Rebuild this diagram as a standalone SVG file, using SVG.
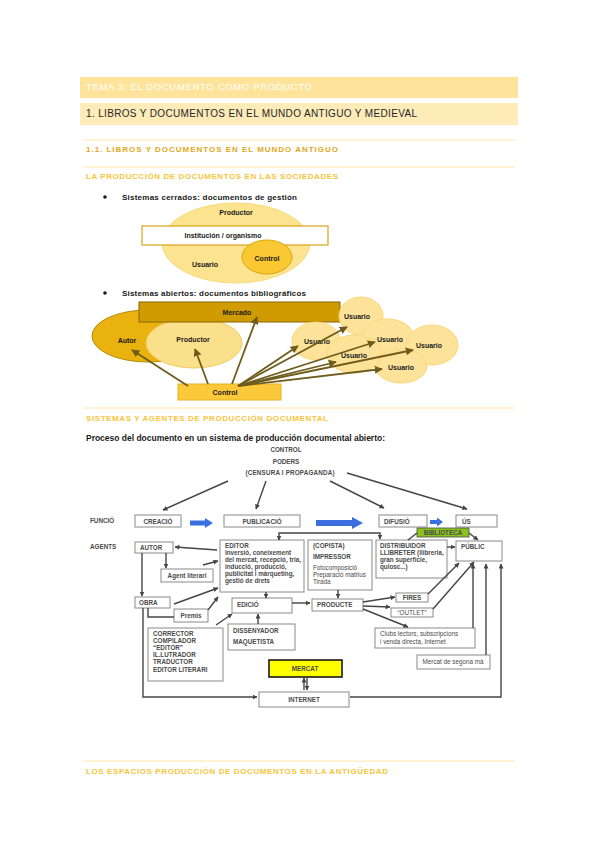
<svg xmlns="http://www.w3.org/2000/svg" width="599" height="848" viewBox="0 0 599 848">
<style>
.hd{font-family:"Liberation Sans",Arial,sans-serif}
.gold1{fill:#dfa81c;font-weight:bold;font-size:8px}
.gold2{fill:#f7c53c;font-weight:bold;font-size:8px}
.rule{stroke:#fde6a6;stroke-width:1}
.blk{font-family:"Liberation Sans",Arial,sans-serif;font-weight:bold;fill:#1a1a1a}
.lab{font-family:"Liberation Sans",Arial,sans-serif;font-weight:bold;font-size:7px;fill:#1a1a1a;text-anchor:middle}
.bx{fill:#fff;stroke:#8a8a8a;stroke-width:1}
.t{font-family:"Liberation Sans",Arial,sans-serif;font-weight:bold;font-size:6.3px;fill:#4a4a4a}
.tc{text-anchor:middle}
.tn{font-weight:normal}
.cl{fill:none;stroke:#454545;stroke-width:1.4}
.ol{fill:none;stroke:#6f5c1c;stroke-width:1.8}
.blue{fill:#3b6fe0}
</style>
<defs>
<marker id="ag" viewBox="0 0 10 10" refX="9" refY="5" markerWidth="5" markerHeight="5" markerUnits="userSpaceOnUse" orient="auto-start-reverse"><path d="M0,0L10,5L0,10z" fill="#454545"/></marker>
<marker id="ao" viewBox="0 0 10 10" refX="9" refY="5" markerWidth="8" markerHeight="8" markerUnits="userSpaceOnUse" orient="auto"><path d="M0,0L10,5L0,10z" fill="#6f5c1c"/></marker>
</defs>
<rect width="599" height="848" fill="#fff"/>

<!-- Header -->
<g id="header">
<rect x="80" y="77" width="438" height="21" fill="#fee49a"/>
<text class="hd" x="86" y="90" font-size="9.5" fill="#fff" textLength="226" lengthAdjust="spacing">TEMA 3: EL DOCUMENTO COMO PRODUCTO</text>
<rect x="80" y="103" width="438" height="22" fill="#fdebb8"/>
<text class="hd" x="86" y="117" font-size="10" fill="#262626" textLength="331" lengthAdjust="spacing">1. LIBROS Y DOCUMENTOS EN EL MUNDO ANTIGUO Y MEDIEVAL</text>
<line class="rule" x1="84" y1="140" x2="515" y2="140"/>
<text class="hd gold1" x="86" y="152" textLength="252" lengthAdjust="spacing">1.1. LIBROS Y DOCUMENTOS EN EL MUNDO ANTIGUO</text>
<line class="rule" x1="84" y1="167" x2="515" y2="167"/>
<text class="hd gold2" x="86" y="179" textLength="252" lengthAdjust="spacing">LA PRODUCCIÓN DE DOCUMENTOS EN LAS SOCIEDADES</text>
</g>

<!-- Closed systems -->
<g id="closed-title">
<circle cx="105" cy="197" r="1.8" fill="#1a1a1a"/>
<text class="blk" x="122" y="200" font-size="8" textLength="175" lengthAdjust="spacing">Sistemas cerrados: documentos de gestión</text>
</g>
<g id="closed-productor">
<ellipse cx="236" cy="243" rx="74" ry="40" fill="#fce38f" stroke="#fbd97a"/>
<text class="lab" x="236" y="215">Productor</text>
<text class="lab" x="205" y="267">Usuario</text>
</g>
<g id="closed-institucion">
<rect x="142" y="226" width="186" height="19" fill="#fff" stroke="#d9a41a" stroke-width="1.2"/>
<text class="lab" x="223" y="238">Institución / organismo</text>
</g>
<g id="closed-control">
<ellipse cx="267" cy="257" rx="25" ry="17" fill="#fac832" stroke="#d9a70c"/>
<text class="lab" x="267" y="261">Control</text>
</g>

<!-- Open systems -->
<g id="open-title">
<circle cx="105" cy="293" r="1.8" fill="#1a1a1a"/>
<text class="blk" x="122" y="296" font-size="8" textLength="184" lengthAdjust="spacing">Sistemas abiertos: documentos bibliográficos</text>
</g>
<g id="open-autor">
<ellipse cx="148" cy="336" rx="56" ry="26" fill="#e9b20e" stroke="#b78a00"/>
<text class="lab" x="127" y="343">Autor</text>
</g>
<g id="open-productor">
<ellipse cx="194" cy="343" rx="48" ry="25" fill="#fbe08c" stroke="#f0cc60"/>
<text class="lab" x="193" y="342">Productor</text>
</g>
<g id="open-mercado">
<rect x="139" y="302" width="201" height="20" fill="#cf9b00" stroke="#876600" stroke-width="1"/>
<text class="lab" x="237" y="315">Mercado</text>
</g>
<g id="usuarios">
<g id="usuario-1"><ellipse cx="361" cy="316" rx="22" ry="19" fill="#fde39a" stroke="#fbd77a"/><text class="lab" x="357" y="319">Usuario</text></g>
<g id="usuario-2"><ellipse cx="316" cy="341" rx="24" ry="19" fill="#fde39a" stroke="#fbd77a"/><text class="lab" x="317" y="344">Usuario</text></g>
<g id="usuario-3"><ellipse cx="388" cy="338" rx="26" ry="19" fill="#fde39a" stroke="#fbd77a"/><text class="lab" x="390" y="342">Usuario</text></g>
<g id="usuario-5"><ellipse cx="432" cy="345" rx="26" ry="20" fill="#fde39a" stroke="#fbd77a"/><text class="lab" x="429" y="348">Usuario</text></g>
<g id="usuario-6"><ellipse cx="401" cy="366" rx="26" ry="17" fill="#fde39a" stroke="#fbd77a"/><text class="lab" x="401" y="370">Usuario</text></g>
<g id="usuario-4"><ellipse cx="354" cy="354" rx="27" ry="19" fill="#fde39a" stroke="#fbd77a"/><text class="lab" x="354" y="358">Usuario</text></g>
</g>
<g id="open-control">
<rect x="178" y="384" width="103" height="16" fill="#fcc93a" stroke="#e4b222"/>
<text class="lab" x="225" y="395">Control</text>
</g>
<g id="open-connectors">
<line class="ol" x1="188" y1="386" x2="132" y2="350" marker-end="url(#ao)"/>
<line class="ol" x1="208" y1="384" x2="195" y2="349" marker-end="url(#ao)"/>
<line class="ol" x1="232" y1="384" x2="257" y2="317" marker-end="url(#ao)"/>
<line class="ol" x1="238" y1="386" x2="347" y2="327" marker-end="url(#ao)"/>
<line class="ol" x1="238" y1="386" x2="298" y2="346" marker-end="url(#ao)"/>
<line class="ol" x1="238" y1="386" x2="375" y2="342" marker-end="url(#ao)"/>
<line class="ol" x1="238" y1="386" x2="336" y2="362" marker-end="url(#ao)"/>
<line class="ol" x1="238" y1="386" x2="413" y2="350" marker-end="url(#ao)"/>
<line class="ol" x1="238" y1="386" x2="382" y2="369" marker-end="url(#ao)"/>
</g>

<!-- Section 2 -->
<g id="section2">
<line class="rule" x1="84" y1="408" x2="515" y2="408"/>
<text class="hd gold2" x="86" y="421" textLength="242" lengthAdjust="spacing">SISTEMAS Y AGENTES DE PRODUCCIÓN DOCUMENTAL</text>
<text class="blk" x="86" y="441" font-size="8.5" textLength="299" lengthAdjust="spacing">Proceso del documento en un sistema de producción documental abierto:</text>
</g>

<!-- Process diagram -->
<g id="control-poders">
<text class="t tc" x="286" y="452">CONTROL</text>
<text class="t tc" x="286" y="464">PODERS</text>
<text class="t tc" x="290" y="475" textLength="89" lengthAdjust="spacing">(CENSURA I PROPAGANDA)</text>
</g>
<g id="labels-rows">
<text class="t" x="90" y="523">FUNCIÓ</text>
<text class="t" x="90" y="549">AGENTS</text>
</g>
<g id="creacio"><rect class="bx" x="135" y="515" width="46" height="12"/><text class="t tc" x="158" y="523.5">CREACIÓ</text></g>
<g id="publicacio"><rect class="bx" x="224" y="515" width="76" height="12"/><text class="t tc" x="262" y="523.5">PUBLICACIÓ</text></g>
<g id="difusio"><rect class="bx" x="379" y="515" width="48" height="12"/><text class="t" x="384" y="523.5">DIFUSIÓ</text></g>
<g id="us"><rect class="bx" x="456" y="515" width="41" height="12"/><text class="t" x="462" y="523.5">ÚS</text></g>
<g id="blue-arrows">
<polygon class="blue" points="190,520.5 205,520.5 205,518 213,523 205,528 205,525.5 190,525.5"/>
<polygon class="blue" points="316,520 352,520 352,517 363,523 352,529 352,526 316,526"/>
<polygon class="blue" points="430,520 437,520 437,517.5 443,522 437,526.5 437,524 430,524"/>
</g>
<g id="autor"><rect class="bx" x="135" y="542" width="38" height="11"/><text class="t" x="140" y="550">AUTOR</text></g>
<g id="agent-literari"><rect class="bx" x="161" y="569" width="52" height="13"/><text class="t tc" x="187" y="577.5">Agent literari</text></g>
<g id="obra"><rect class="bx" x="135" y="597" width="35" height="11"/><text class="t" x="139" y="605">OBRA</text></g>
<g id="premis"><rect class="bx" x="174" y="609" width="34" height="13"/><text class="t tc" x="191" y="617.5">Premis</text></g>
<g id="editor">
<rect class="bx" x="220" y="540" width="84" height="52"/>
<text class="t" x="225" y="548">EDITOR</text>
<text class="t" x="225" y="555">Inversió, coneixement</text>
<text class="t" x="225" y="562">del mercat, recepció, tria,</text>
<text class="t" x="225" y="569">inducció, producció,</text>
<text class="t" x="225" y="576">publicitat i màrqueting,</text>
<text class="t" x="225" y="583">gestió de drets</text>
</g>
<g id="impressor">
<rect class="bx" x="308" y="540" width="64" height="50"/>
<text class="t" x="313" y="548">(COPISTA)</text>
<text class="t" x="313" y="559">IMPRESSOR</text>
<text class="t tn" x="313" y="570" font-size="5.6">Fotocomposició</text>
<text class="t tn" x="313" y="577" font-size="5.6">Preparació matrius</text>
<text class="t tn" x="313" y="584" font-size="5.6">Tirada</text>
</g>
<g id="distribuidor">
<rect class="bx" x="376" y="540" width="71" height="38"/>
<text class="t" x="380" y="548">DISTRIBUIDOR</text>
<text class="t" x="380" y="555">LLIBRETER (llibreria,</text>
<text class="t" x="380" y="562">gran superfície,</text>
<text class="t" x="380" y="569">quiosc...)</text>
</g>
<g id="biblioteca"><rect x="417" y="528" width="52" height="9" fill="#8cc21e" stroke="#4a4a4a" stroke-width="0.8"/><text class="t tc" x="443" y="535" fill="#2e3a10">BIBLIOTECA</text></g>
<g id="public"><rect class="bx" x="456" y="541" width="46" height="20"/><text class="t" x="461" y="549">PÚBLIC</text></g>
<g id="edicio"><rect class="bx" x="232" y="598" width="60" height="15"/><text class="t" x="237" y="607">EDICIÓ</text></g>
<g id="producte"><rect class="bx" x="312" y="599" width="51" height="12"/><text class="t" x="317" y="607">PRODUCTE</text></g>
<g id="dissenyador">
<rect class="bx" x="228" y="624" width="67" height="26"/>
<text class="t" x="233" y="633">DISSENYADOR</text>
<text class="t" x="233" y="644">MAQUETISTA</text>
</g>
<g id="corrector">
<rect class="bx" x="148" y="628" width="75" height="53"/>
<text class="t" x="153" y="636">CORRECTOR</text>
<text class="t" x="153" y="643">COMPILADOR</text>
<text class="t" x="153" y="650">“EDITOR”</text>
<text class="t" x="153" y="657">IL.LUTRADOR</text>
<text class="t" x="153" y="664">TRADUCTOR</text>
<text class="t" x="153" y="672">EDITOR LITERARI</text>
</g>
<g id="fires"><rect class="bx" x="396" y="593" width="32" height="9"/><text class="t tc" x="412" y="600">FIRES</text></g>
<g id="outlet"><rect class="bx" x="391" y="608" width="42" height="9"/><text class="t tc tn" x="412" y="615">“OUTLET”</text></g>
<g id="clubs">
<rect class="bx" x="375" y="628" width="100" height="20"/>
<text class="t tn" x="380" y="636">Clubs lectors, subscripcions</text>
<text class="t tn" x="380" y="644">i venda directa, Internet</text>
</g>
<g id="segona-ma"><rect class="bx" x="417" y="655" width="73" height="14"/><text class="t tc tn" x="453" y="664">Mercat de segona mà</text></g>
<g id="mercat"><rect x="269" y="660" width="73" height="17" fill="#ffff00" stroke="#1a1a1a" stroke-width="1.6"/><text class="t tc" x="305" y="670.5" fill="#333">MERCAT</text></g>
<g id="internet"><rect class="bx" x="259" y="692" width="90" height="15"/><text class="t tc" x="304" y="701.5" fill="#333">INTERNET</text></g>

<g id="connectors">
<line class="cl" x1="228" y1="481" x2="163" y2="510" marker-end="url(#ag)"/>
<line class="cl" x1="266" y1="481" x2="256" y2="509" marker-end="url(#ag)"/>
<line class="cl" x1="330" y1="481" x2="384" y2="508" marker-end="url(#ag)"/>
<line class="cl" x1="347" y1="473" x2="467" y2="509" marker-end="url(#ag)"/>
<line class="cl" x1="217" y1="550" x2="175" y2="547" marker-end="url(#ag)"/>
<line class="cl" x1="166" y1="553" x2="166" y2="568" marker-end="url(#ag)"/>
<line class="cl" x1="203" y1="565" x2="218" y2="561" marker-end="url(#ag)"/>
<line class="cl" x1="142" y1="553" x2="142" y2="596" marker-end="url(#ag)"/>
<line class="cl" x1="174" y1="604" x2="218" y2="588" marker-end="url(#ag)"/>
<line class="cl" x1="208" y1="610" x2="218" y2="597" marker-end="url(#ag)"/>
<line class="cl" x1="266" y1="592" x2="266" y2="598" marker-end="url(#ag)"/>
<line class="cl" x1="292" y1="603" x2="310" y2="603" marker-end="url(#ag)"/>
<line class="cl" x1="338" y1="590" x2="338" y2="598" marker-end="url(#ag)"/>
<line class="cl" x1="258" y1="624" x2="258" y2="614" marker-end="url(#ag)"/>
<line class="cl" x1="216" y1="625" x2="232" y2="614" marker-end="url(#ag)"/>
<path class="cl" d="M148,608V617H174"/>
<path class="cl" d="M143,608V697H257" marker-end="url(#ag)"/>
<path class="cl" d="M279,540V533H380V539" marker-start="url(#ag)" marker-end="url(#ag)"/>
<line class="cl" x1="447" y1="547" x2="455" y2="547" marker-end="url(#ag)"/>
<line class="cl" x1="408" y1="540" x2="417" y2="533"/>
<line class="cl" x1="469" y1="533" x2="478" y2="540" marker-end="url(#ag)"/>
<line class="cl" x1="363" y1="602" x2="395" y2="597" marker-end="url(#ag)"/>
<line class="cl" x1="363" y1="606" x2="390" y2="607" marker-end="url(#ag)"/>
<line class="cl" x1="363" y1="609" x2="408" y2="627" marker-end="url(#ag)"/>
<line class="cl" x1="428" y1="594" x2="459" y2="563" marker-end="url(#ag)"/>
<line class="cl" x1="433" y1="609" x2="474" y2="562" marker-end="url(#ag)"/>
<line class="cl" x1="473" y1="628" x2="473" y2="564" marker-end="url(#ag)"/>
<line class="cl" x1="486" y1="655" x2="486" y2="564" marker-end="url(#ag)"/>
<path class="cl" d="M350,697H501V564" marker-end="url(#ag)"/>
<line class="cl" x1="304" y1="690" x2="304" y2="678" marker-end="url(#ag)"/>
<line class="cl" x1="307" y1="678" x2="307" y2="690" marker-end="url(#ag)"/>
</g>

<!-- Section 3 -->
<g id="section3">
<line class="rule" x1="84" y1="761" x2="515" y2="761"/>
<text class="hd gold2" x="86" y="774" textLength="302" lengthAdjust="spacing">LOS ESPACIOS PRODUCCIÓN DE DOCUMENTOS EN LA ANTIGÜEDAD</text>
</g>
</svg>
